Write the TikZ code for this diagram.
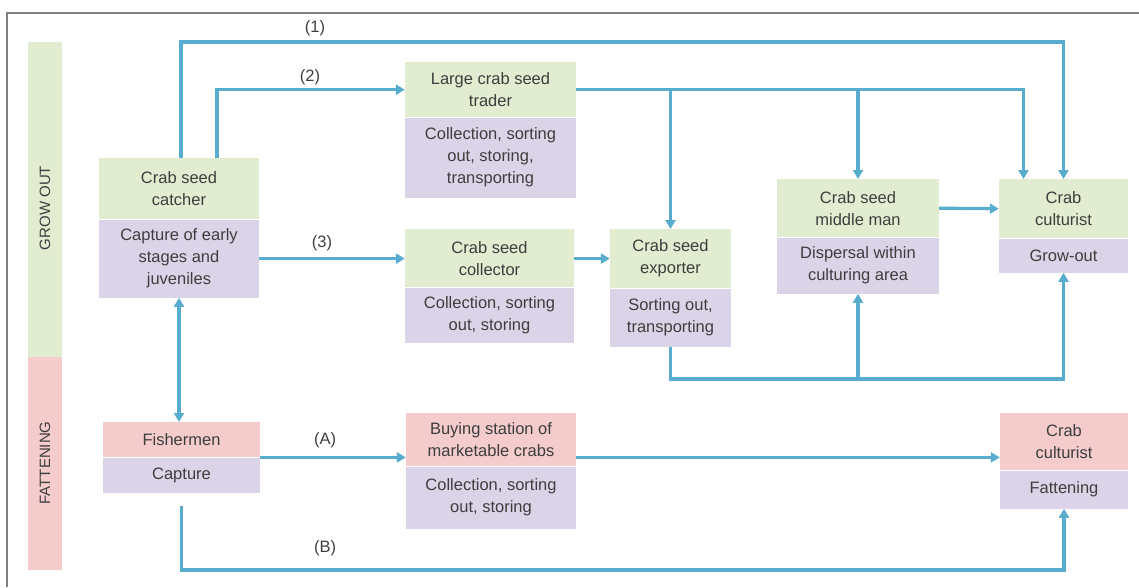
\documentclass[tikz,border=0pt]{standalone}
\usepackage{fontspec}
\setmainfont{Liberation Sans}
\usetikzlibrary{positioning,arrows.meta}
\definecolor{seedgreen}{RGB}{226,236,208}
\definecolor{actpurple}{RGB}{219,211,231}
\definecolor{fatpink}{RGB}{243,204,203}
\definecolor{flowblue}{RGB}{88,172,205}
\definecolor{txtgray}{RGB}{62,62,62}

\begin{document}
\begin{tikzpicture} [x=1pt, y=-1pt,
  every node/.style={text=txtgray, font=\fontsize{16.5}{22}\selectfont},
  box/.style={anchor=north, align=center, inner sep=0pt},
  actbox/.style={align=center, inner sep=0pt, fill=actpurple, below=0pt of #1},
  flow/.style={flowblue, line width=3.2pt, -{Triangle[length=9pt, width=10pt]}},
  both/.style={flowblue, line width=3.2pt, {Triangle[length=9pt, width=10pt]}-{Triangle[length=9pt, width=10pt]}}]
\useasboundingbox (0,0) rectangle (1139,587);

% frame and side bars
\draw[gray, line width=1.3pt] (7,587) -- (7,13) -- (1139,13);
\fill[seedgreen] (28,42) rectangle (62,357);
\fill[fatpink] (28,357) rectangle (62,570);
\node[rotate=90, font=\fontsize{15}{18}\selectfont] (growlab) at (45,208) {GROW OUT};
\node[rotate=90, font=\fontsize{15}{18}\selectfont] (fatlab) at (45,463) {FATTENING};

% grow out
\node[box, fill=seedgreen, minimum width=160, minimum height=61] (catcher) at (179,158) {Crab seed\\catcher};
\node[actbox=catcher, minimum width=160, minimum height=78] (catcherAct) {Capture of early\\stages and\\juveniles};

\node[box, fill=seedgreen, minimum width=171, minimum height=55] (trader) at (490.5,62) {Large crab seed\\trader};
\node[actbox=trader, minimum width=171, minimum height=80] (traderAct) {Collection, sorting\\out, storing,\\transporting};

\node[box, fill=seedgreen, minimum width=169, minimum height=58] (collector) at (489.5,229) {Crab seed\\collector};
\node[actbox=collector, minimum width=169, minimum height=55] (collectorAct) {Collection, sorting\\out, storing};

\node[box, fill=seedgreen, minimum width=121, minimum height=59] (exporter) at (670.5,229) {Crab seed\\exporter};
\node[actbox=exporter, minimum width=121, minimum height=58] (exporterAct) {Sorting out,\\transporting};

\node[box, fill=seedgreen, minimum width=162, minimum height=58] (middle) at (858,179) {Crab seed\\middle man};
\node[actbox=middle, minimum width=162, minimum height=56] (middleAct) {Dispersal within\\culturing area};

\node[box, fill=seedgreen, minimum width=129, minimum height=59] (grow) at (1063.5,179) {Crab\\culturist};
\node[actbox=grow, minimum width=129, minimum height=34] (growAct) {Grow-out};

% fattening
\node[box, fill=fatpink, minimum width=157, minimum height=35] (fisher) at (181.5,422) {Fishermen};
\node[actbox=fisher, minimum width=157, minimum height=35] (fisherAct) {Capture};

\node[box, fill=fatpink, minimum width=170, minimum height=53] (buying) at (491,413) {Buying station of\\marketable crabs};
\node[actbox=buying, minimum width=170, minimum height=62] (buyingAct) {Collection, sorting\\out, storing};

\node[box, fill=fatpink, minimum width=128, minimum height=57] (fat) at (1064,413) {Crab\\culturist};
\node[actbox=fat, minimum width=128, minimum height=38] (fatAct) {Fattening};

% routes
\coordinate (topone) at (0,42);
\coordinate (lowgrow) at (0,379);
\coordinate (lowfat) at (0,570);
\draw[flow] ([xshift=2pt]catcher.north) |- (topone -| grow.north) -- (grow.north);
\draw[flow] ([xshift=38pt]catcher.north) |- (trader.west);
\draw[flow] (trader.east) -| ([xshift=-40pt]grow.north);
\draw[flow] (trader.east -| exporter.north) -- (exporter.north);
\draw[flow] (trader.east -| middle.north) -- (middle.north);
\draw[flow] (catcherAct.east) -- (catcherAct.east -| collector.west);
\draw[flow] (collector.east |- catcherAct.east) -- (exporter.west |- catcherAct.east);
\draw[flow] (middle.east) -- (grow.west);
\draw[flow] (exporterAct.south) |- (lowgrow -| growAct.south) -- (growAct.south);
\draw[flow] (lowgrow -| middleAct.south) -- (middleAct.south);
\draw[both] (catcherAct.south) -- (catcherAct.south |- fisher.north);
\draw[flow] (fisher.south east) -- (fisher.south east -| buying.west);
\draw[flow] (fisher.south east -| buying.east) -- (fisher.south east -| fat.west);
\draw[flow] ([yshift=-13pt]fisherAct.south) |- (lowfat -| fatAct.south) -- (fatAct.south);

% route labels
\node (lab1) at (315,28) {(1)};
\node (lab2) at (310,77) {(2)};
\node (lab3) at (322,243) {(3)};
\node (labA) at (325,440) {(A)};
\node (labB) at (325,548) {(B)};
\end{tikzpicture}
\end{document}
